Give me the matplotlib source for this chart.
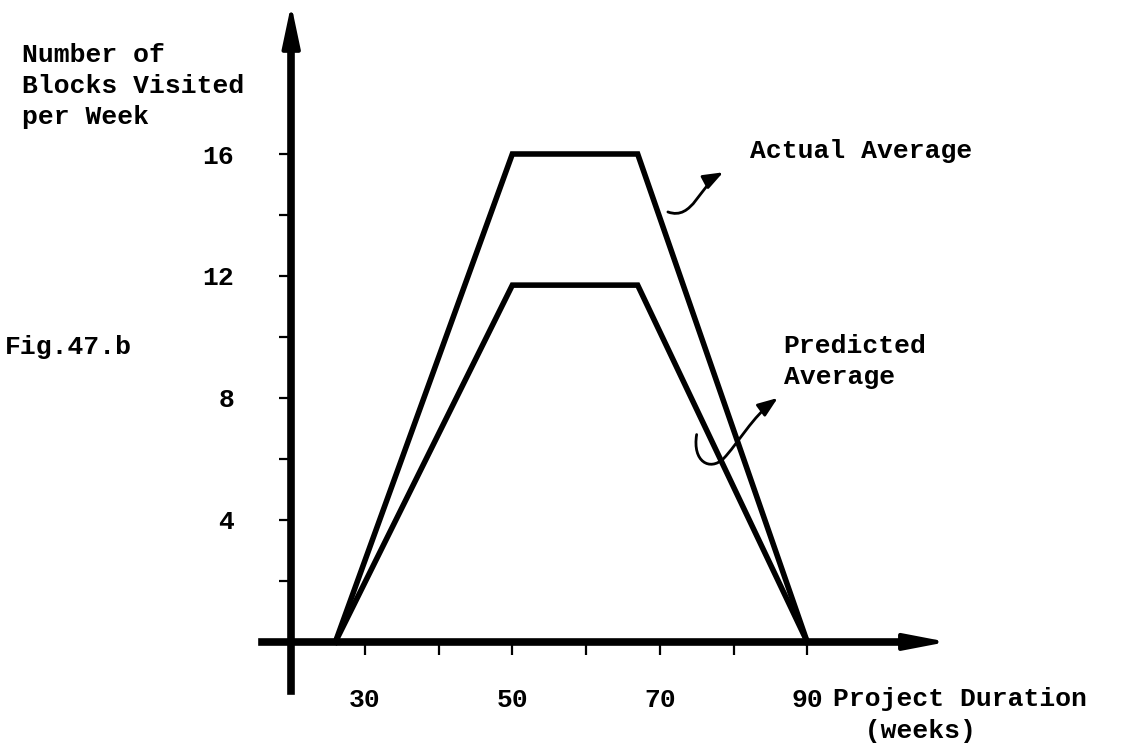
import matplotlib
matplotlib.use("Agg")
import matplotlib.pyplot as plt
from matplotlib.patches import FancyArrowPatch
from matplotlib.path import Path

# data
weeks = [26, 50, 67, 90]
actual_avg = [0, 16, 16, 0]
predicted_avg = [0, 11.7, 11.7, 0]

x_major = [30, 50, 70, 90]
x_minor = [40, 60, 80]
y_major = [4, 8, 12, 16]
y_minor = [2, 6, 10, 14]

plt.rcParams["font.family"] = ["Liberation Mono", "DejaVu Sans Mono"]
plt.rcParams["font.size"] = 19
plt.rcParams["font.weight"] = "bold"

fig = plt.figure(figsize=(11.22, 7.45), dpi=100)
ax = fig.add_axes([0, 0, 1, 1])
ax.set_xlim(-19.5, 132.7)
ax.set_ylim(-3.38, 21.05)

# axes drawn as thick lines through the origin of the sketch
for s in ["top", "right"]:
    ax.spines[s].set_visible(False)
ax.spines["left"].set_position(("data", 20))
ax.spines["bottom"].set_position(("data", 0))
ax.spines["left"].set_bounds(-1.6, 20.0)
ax.spines["bottom"].set_bounds(16, 104)
ax.spines["left"].set_linewidth(5.5)
ax.spines["bottom"].set_linewidth(5.5)
ax.patch.set_alpha(0)

# arrow heads on the axes
ax.annotate("", xy=(20, 20.9), xytext=(20, 19.5),
            arrowprops=dict(arrowstyle="-|>,head_length=2.6,head_width=0.55",
                            mutation_scale=10, lw=3, color="black", shrinkA=0, shrinkB=0))
ax.annotate("", xy=(109, 0), xytext=(102, 0),
            arrowprops=dict(arrowstyle="-|>,head_length=2.6,head_width=0.5",
                            mutation_scale=10, lw=3, color="black", shrinkA=0, shrinkB=0))

ax.set_xticks(x_major)
ax.set_xticks(x_minor, minor=True)
ax.set_yticks(y_major)
ax.set_yticks(y_minor, minor=True)
ax.tick_params(axis="both", which="both", direction="out", length=9, width=1.6)
ax.tick_params(axis="x", which="major", pad=24)
ax.tick_params(axis="y", which="major", pad=32)

# the two curves
ax.plot(weeks, actual_avg, color="black", lw=4, solid_joinstyle="miter")
ax.plot(weeks, predicted_avg, color="black", lw=4, solid_joinstyle="miter")

# text
ax.text(-16.5, 19.64, "Number of\nBlocks Visited\nper Week", ha="left", va="top",
        linespacing=1.38)
ax.text(-18.8, 9.68, "Fig.47.b", ha="left", va="center")
ax.text(93.5, -1.48, "Project Duration\n  (weeks)", ha="left", va="top", linespacing=1.4)
ax.text(82.2, 16.1, "Actual Average", ha="left", va="center")
ax.text(86.8, 9.2, "Predicted\nAverage", ha="left", va="center", linespacing=1.35)

# hand drawn curly pointers
p1 = Path([(71.1, 14.1), (74.5, 13.8), (75.5, 15.0), (78.6, 15.4)],
          [Path.MOVETO, Path.CURVE4, Path.CURVE4, Path.CURVE4])
p2 = Path([(75.0, 6.8), (74.4, 5.9), (76.8, 5.6), (78.6, 6.0),
           (80.6, 6.5), (82.6, 7.4), (86.0, 8.0)],
          [Path.MOVETO, Path.CURVE4, Path.CURVE4, Path.CURVE4,
           Path.CURVE4, Path.CURVE4, Path.CURVE4])
for p in (p1, p2):
    ax.add_patch(FancyArrowPatch(path=p, arrowstyle="-|>,head_length=1.2,head_width=0.45",
                                 mutation_scale=10, lw=2, color="black"))

fig.savefig("out.png", dpi=100)
